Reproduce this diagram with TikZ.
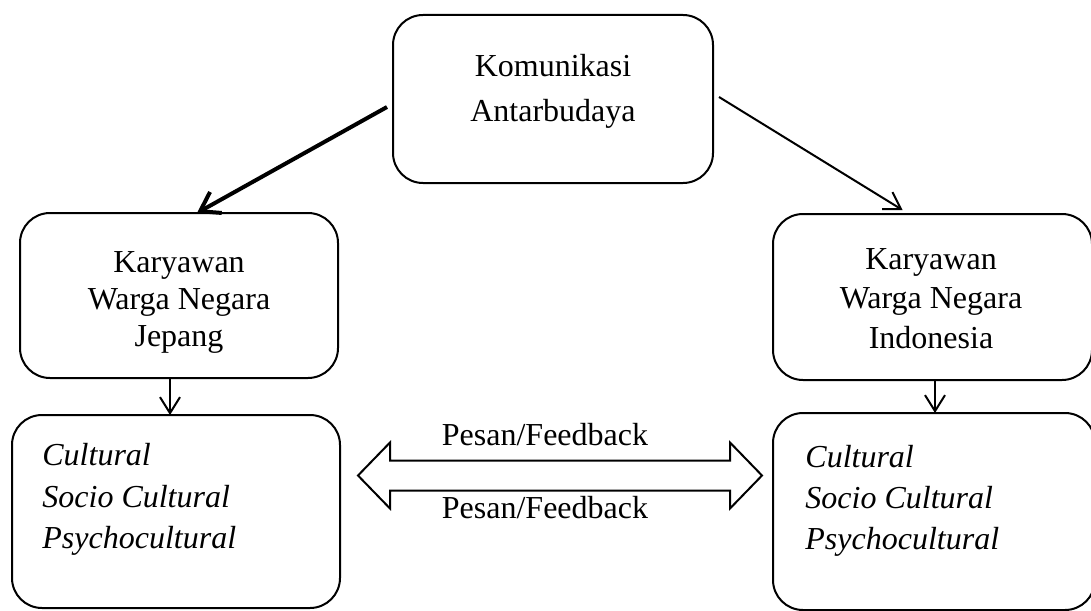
\documentclass[tikz,border=0pt]{standalone}
\usepackage{fontspec}
\setmainfont{Liberation Serif}
\usetikzlibrary{arrows.meta,calc}
\begin{document}
\begin{tikzpicture}[x=0.5pt,y=-0.5pt,
  box/.style={draw,line width=1pt,rounded corners=15pt,inner sep=0pt,outer sep=0pt},
  txt/.style={inner sep=0pt,anchor=base,font=\fontsize{16}{19}\selectfont},
  itxt/.style={inner sep=0pt,anchor=base west,font=\fontsize{16}{19}\selectfont\itshape},
  barb/.style={-{Straight Barb[length=8pt,width=10pt]},line width=1pt},
  thickbarb/.style={-{Straight Barb[length=9pt,width=12pt]},line width=2pt}]
\useasboundingbox (0,0) rectangle (1091,610);
\begin{scope}
\clip (0,0) rectangle (1091,610);
% boxes
\node[box,minimum width=160pt,minimum height=84pt] (top) at (553,99) {};
\node[box,minimum width=159pt,minimum height=82.5pt] (jp) at (179,295.5) {};
\node[box,minimum width=159.5pt,minimum height=83pt] (id) at (932.5,297) {};
\node[box,minimum width=164pt,minimum height=96.5pt] (cjp) at (176,511.5) {};
\node[box,minimum width=161pt,minimum height=98.5pt] (cid) at (934,511.5) {};
% texts
\node[txt] (t1) at (553,77) {Komunikasi};
\node[txt] (t2) at (553,121) {Antarbudaya};
\node[txt] (j1) at (179,272) {Karyawan};
\node[txt] (j2) at (179,309) {Warga Negara};
\node[txt] (j3) at (179,346) {Jepang};
\node[txt] (i1) at (931,269) {Karyawan};
\node[txt] (i2) at (931,308) {Warga Negara};
\node[txt] (i3) at (931,348) {Indonesia};
\node[itxt] (c1) at (42,465) {Cultural};
\node[itxt] (c2) at (42,507) {Socio Cultural};
\node[itxt] (c3) at (42,548) {Psychocultural};
\node[itxt] (d1) at (805,467) {Cultural};
\node[itxt] (d2) at (805,508) {Socio Cultural};
\node[itxt] (d3) at (805,549) {Psychocultural};
\node[txt] (p1) at (545,445) {Pesan/Feedback};
\node[txt] (p2) at (545,518) {Pesan/Feedback};
% connectors
\draw[thickbarb] ([shift={(-6,8)}]top.west) -- ([shift={(18,0)}]jp.north);
\draw[barb] ([shift={(6,-2)}]top.east) -- ([shift={(-30,-4)}]id.north);
\draw[barb] ([shift={(-9,0)}]jp.south) -- ([shift={(-6,0)}]cjp.north);
\draw[barb] ([shift={(2.5,0)}]id.south) -- ([shift={(1,0)}]cid.north);
% double arrow
\coordinate (la) at ($(cjp.east)+(18,-36)$);
\coordinate (ra) at ($(cid.west)+(-11,-36)$);
\draw[line width=1pt,line join=miter]
  (la) -- ++(32,-33) -- ++(0,18) -- ($(ra)+(-32,-15)$) -- ++(0,-18) -- (ra)
  -- ++(-32,33) -- ++(0,-18) -- ($(la)+(32,15)$) -- ++(0,18) -- cycle;
\end{scope}
\end{tikzpicture}
\end{document}
